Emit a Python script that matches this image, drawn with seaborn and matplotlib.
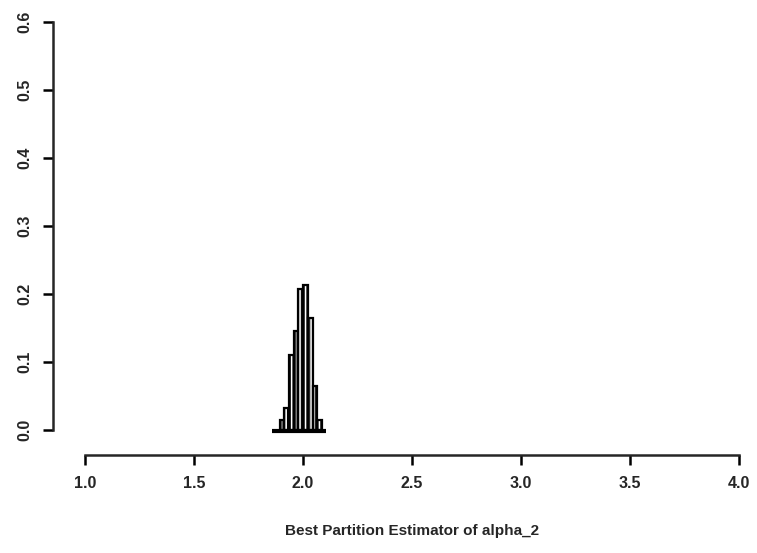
import seaborn as sns
import matplotlib.pyplot as plt
import numpy as np

# bin edges and relative frequencies
bin_edges = [1.893, 1.915, 1.936, 1.958, 1.979, 2.001, 2.022, 2.044, 2.065, 2.087]
rel_freq = [0.015, 0.032, 0.110, 0.145, 0.208, 0.213, 0.164, 0.064, 0.015]
baseline_x = [1.86, 2.105]

x_ticks = [1.0, 1.5, 2.0, 2.5, 3.0, 3.5, 4.0]
y_ticks = [0.0, 0.1, 0.2, 0.3, 0.4, 0.5, 0.6]

sns.set_style("ticks")
plt.rcParams['font.family'] = ['Liberation Sans', 'DejaVu Sans']
plt.rcParams['hatch.linewidth'] = 0.8
plt.rcParams['hatch.color'] = 'black'

fig = plt.figure(figsize=(7.57, 5.53), dpi=100)
ax = fig.add_axes([85 / 757, 1 - 430 / 553, 654 / 757, 408 / 553])

centres = [(a + b) / 2 for a, b in zip(bin_edges[:-1], bin_edges[1:])]
sns.histplot(x=centres, weights=rel_freq, bins=bin_edges, ax=ax,
             color="white", edgecolor="black", linewidth=1.6, alpha=1.0)
for p in ax.patches:
    p.set_hatch("||||||")

# thick base line under the bars
ax.plot(baseline_x, [-0.002, -0.002], color="black", lw=3, solid_capstyle="butt",
        clip_on=False)

ax.set_xlim(1.0, 4.0)
ax.set_ylim(0, 0.6)
ax.set_xticks(x_ticks)
ax.set_yticks(y_ticks)
ax.set_xticklabels([f"{t:.1f}" for t in x_ticks])
ax.set_yticklabels([f"{t:.1f}" for t in y_ticks])

# R-style detached axes
for s in ["top", "right"]:
    ax.spines[s].set_visible(False)
ax.spines["left"].set_position(("outward", 23))
ax.spines["bottom"].set_position(("outward", 18))
ax.spines["left"].set_bounds(0, 0.6)
ax.spines["bottom"].set_bounds(1.0, 4.0)
ax.spines["left"].set_linewidth(1.8)
ax.spines["bottom"].set_linewidth(1.8)
ax.tick_params(axis="both", direction="out", length=7, width=1.8, color="black",
               pad=8, labelsize=11.5)
ax.tick_params(axis="y", labelrotation=90)
for lab in ax.get_xticklabels() + ax.get_yticklabels():
    lab.set_fontweight("bold")
for lab in ax.get_yticklabels():
    lab.set_verticalalignment("center")

ax.set_xlabel("Best Partition Estimator of alpha_2", fontsize=11, fontweight="bold",
              labelpad=24)
ax.set_ylabel("")

plt.savefig("out.png", dpi=100)
